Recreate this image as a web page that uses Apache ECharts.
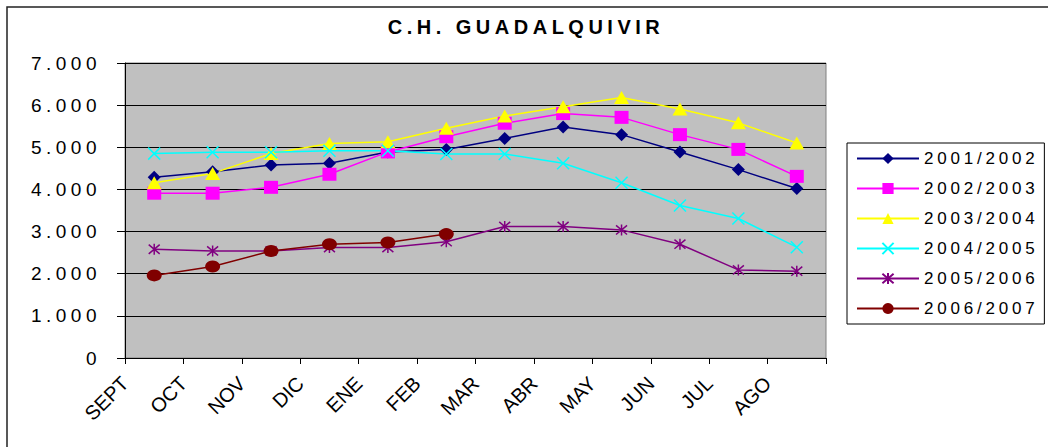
<!DOCTYPE html>
<html>
<head>
<meta charset="utf-8">
<script src="https://cdn.jsdelivr.net/npm/echarts@6/dist/echarts.min.js"></script>
<style>
  html, body { margin: 0; padding: 0; background: #fff; }
  #chart { width: 1048px; height: 447px; }
  /* excel-like expanded text */
  #chart text[style*="Arial"] { letter-spacing: 4.5px; }
  #chart text[style*="Helvetica"] { letter-spacing: 3.8px; }
</style>
</head>
<body>
<div id="chart"></div>
<script>
// meses (campaña hidrológica)
const months = ['SEPT', 'OCT', 'NOV', 'DIC', 'ENE', 'FEB', 'MAR', 'ABR', 'MAY', 'JUN', 'JUL', 'AGO'];
const yTicks = [0, 1000, 2000, 3000, 4000, 5000, 6000, 7000];

const s2001 = [4290, 4420, 4580, 4620, 4890, 4950, 5210, 5480, 5300, 4890, 4470, 4020];
const s2002 = [3910, 3910, 4050, 4360, 4890, 5250, 5570, 5800, 5710, 5300, 4950, 4310];
const s2003 = [4160, 4380, 4850, 5090, 5130, 5450, 5740, 5960, 6180, 5910, 5580, 5100];
const s2004 = [4850, 4880, 4880, 4920, 4920, 4840, 4840, 4620, 4160, 3620, 3310, 2630];
const s2005 = [2580, 2540, 2540, 2620, 2620, 2760, 3120, 3120, 3040, 2700, 2090, 2060];
const s2006 = [1960, 2170, 2540, 2700, 2740, 2940];

const fmt = v => v === 0 ? '0' : (v / 1000) + '.000';

const crossPath = 'path://M0,0L10,10M10,0L0,10';
const starPath = 'path://M0,0L10,10M10,0L0,10M5,-1L5,11';

function mk(name, data, color, symbol, size, stroke) {
  return {
    name: name,
    type: 'line',
    data: data,
    symbol: symbol,
    symbolSize: size,
    lineStyle: { color: color, width: 1.5 },
    itemStyle: stroke
      ? { color: color, borderColor: color, borderWidth: 1.5 }
      : { color: color, borderWidth: 0 },
    emphasis: { disabled: true },
    animation: false
  };
}

const chart = echarts.init(document.getElementById('chart'), null, { renderer: 'svg' });
chart.setOption({
  backgroundColor: '#fff',
  animation: false,
  title: {
    text: 'C.H. GUADALQUIVIR',
    left: 521,
    top: 12,
    textAlign: 'center',
    textStyle: { fontFamily: 'Arial', fontWeight: 900, fontSize: 20, color: '#000' }
  },
  graphic: [{
    type: 'rect',
    shape: { x: 7, y: 7, width: 1100, height: 500 },
    style: { fill: 'none', stroke: '#222', lineWidth: 1.5 },
    silent: true
  }],
  legend: {
    orient: 'vertical',
    left: 847,
    top: 143,
    padding: [7, 40, 7, 9],
    itemWidth: 62,
    itemHeight: 14,
    itemGap: 13,
    borderColor: '#000',
    borderWidth: 1,
    textStyle: { fontFamily: 'Helvetica', fontSize: 17, color: '#000' },
    data: ['2001/2002', '2002/2003', '2003/2004', '2004/2005', '2005/2006', '2006/2007']
  },
  grid: {
    left: 125, top: 63, width: 701, height: 295,
    show: true,
    backgroundColor: '#C0C0C0',
    borderColor: '#808080',
    borderWidth: 1
  },
  xAxis: [{
    type: 'category',
    data: months,
    boundaryGap: true,
    axisLine: { lineStyle: { color: '#000', width: 1 } },
    axisTick: { show: false },
    axisLabel: { show: false }
  }, {
    type: 'category',
    data: months.concat(['']),
    boundaryGap: false,
    position: 'bottom',
    axisLine: { show: false },
    axisTick: { show: true, length: 6, lineStyle: { color: '#000' } },
    axisLabel: {
      rotate: 45,
      margin: 22,
      interval: 0,
      fontFamily: 'Liberation Sans',
      fontSize: 20,
      color: '#000'
    }
  }],
  yAxis: {
    type: 'value',
    min: yTicks[0],
    max: yTicks[yTicks.length - 1],
    interval: 1000,
    axisLine: { show: true, lineStyle: { color: '#000', width: 1 } },
    axisTick: { show: true, length: 8, lineStyle: { color: '#000' } },
    axisLabel: {
      formatter: fmt,
      margin: 24,
      fontFamily: 'Arial',
      fontSize: 19,
      color: '#000'
    },
    splitLine: { show: true, lineStyle: { color: '#000', width: 1 } }
  },
  series: [
    mk('2001/2002', s2001, '#000080', 'diamond', 13, false),
    mk('2002/2003', s2002, '#FF00FF', 'rect', [14, 13], false),
    mk('2003/2004', s2003, '#FFFF00', 'triangle', [15, 13], false),
    mk('2004/2005', s2004, '#00FFFF', crossPath, 12, true),
    mk('2005/2006', s2005, '#800080', starPath, 11, true),
    mk('2006/2007', s2006, '#800000', 'circle', [15, 12], false)
  ]
});
</script>
</body>
</html>
